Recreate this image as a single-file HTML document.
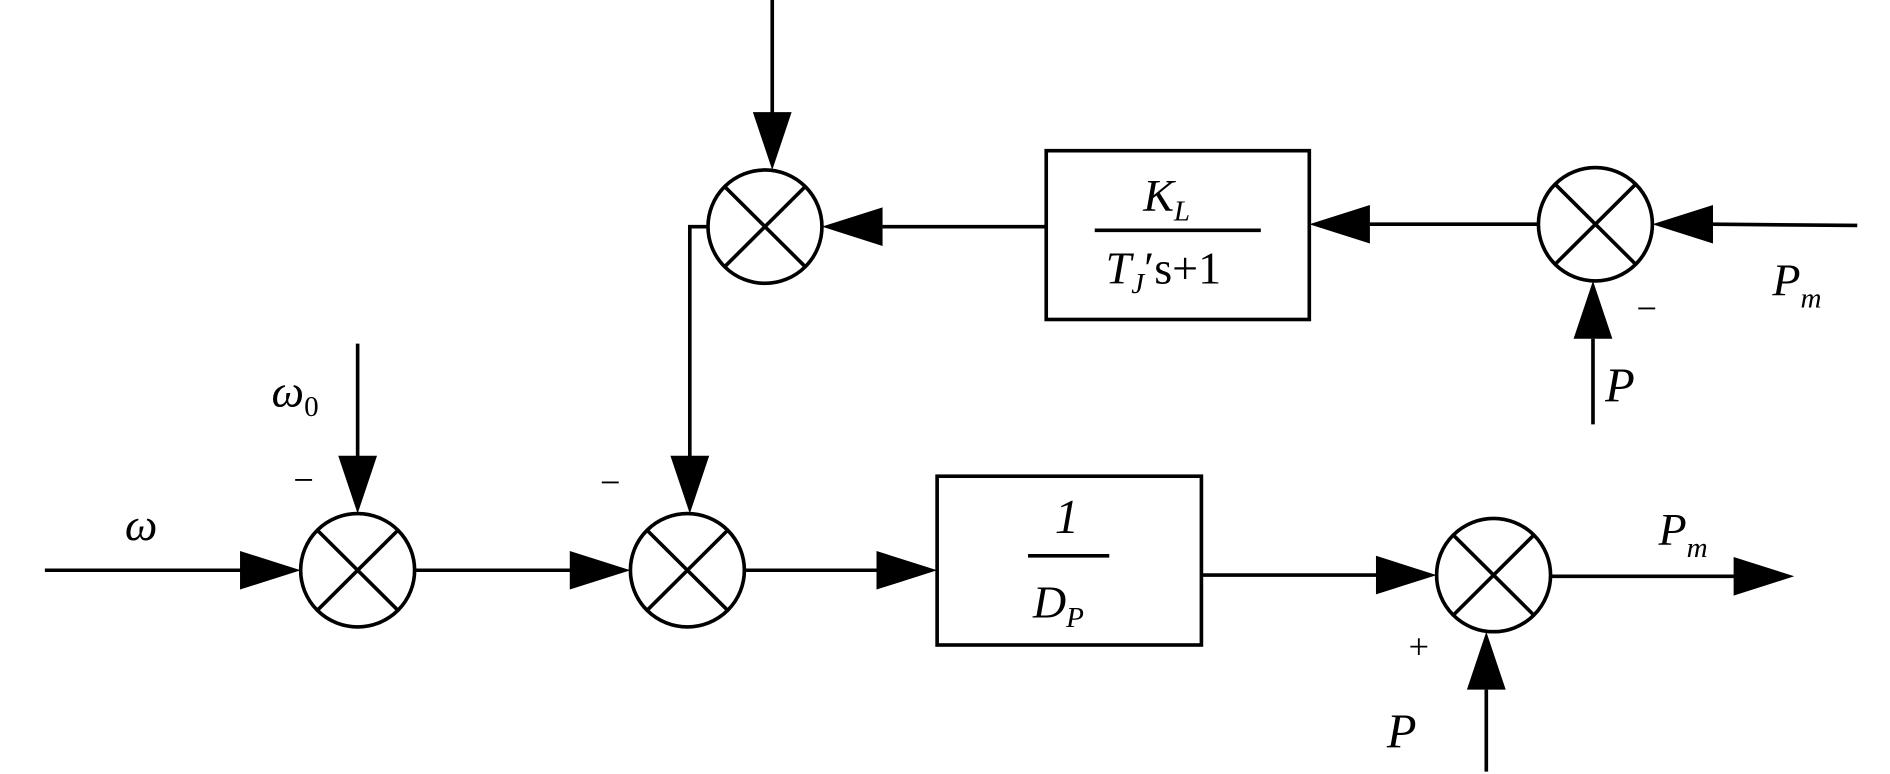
<!DOCTYPE html>
<html><head><meta charset="utf-8"><style>
html,body{margin:0;padding:0;background:#fff;}
svg{display:block;}
text{font-family:"Liberation Serif",serif;font-style:italic;fill:#000;}
</style></head><body>
<svg width="1890" height="774" viewBox="0 0 1559 642" preserveAspectRatio="none" xmlns="http://www.w3.org/2000/svg">
<g stroke="#000" stroke-width="3" fill="none">
<!-- circles -->
<circle cx="295" cy="473" r="47"/><path d="M262,440L328,506M328,440L262,506"/>
<circle cx="567" cy="473" r="47"/><path d="M534,440L600,506M600,440L534,506"/>
<circle cx="631" cy="188" r="47"/><path d="M598,155L664,221M664,155L598,221"/>
<circle cx="1316" cy="186" r="47"/><path d="M1283,153L1349,219M1349,153L1283,219"/>
<circle cx="1232" cy="477" r="47"/><path d="M1199,444L1265,510M1265,444L1199,510"/>
<!-- blocks -->
<rect x="773" y="395" width="218" height="140"/>
<rect x="863" y="125" width="217" height="140"/>
<!-- lines -->
<path d="M37,473H200M295,285V380M342,473H472M614,473H725M991,477H1137M1279,478H1433M1226,640V572"/>
<path d="M1532,187L1412,186M1270,186H1130M863,188H728M1314,352V281M637,0V95M584,188H569V380"/>
<path d="M848,461H915M903,191H1040"/>
</g>
<g fill="#000">
<polygon points="248,473 198,457 198,489"/>
<polygon points="295,426 279,378 311,378"/>
<polygon points="520,473 470,457 470,489"/>
<polygon points="773,473 723,457 723,489"/>
<polygon points="1185,477 1135,461 1135,493"/>
<polygon points="1480,478 1430,462 1430,494"/>
<polygon points="1226,524 1210,572 1242,572"/>
<polygon points="1363,186 1413,170 1413,202"/>
<polygon points="1080,186 1130,170 1130,202"/>
<polygon points="678,188 728,172 728,204"/>
<polygon points="1314,233 1298,281 1330,281"/>
<polygon points="637,141 621,93 653,93"/>
<polygon points="569,426 553,378 585,378"/>
</g>
<text x="103" y="448" font-size="38">ω</text>
<text x="224" y="337" font-size="38">ω<tspan font-size="24" font-style="normal" dy="8">0</tspan></text>
<text x="240" y="408" font-size="30" font-style="normal">−</text>
<text x="493" y="410" font-size="30" font-style="normal">−</text>
<text x="870" y="442" font-size="40" font-style="normal">1</text>
<text x="852" y="512" font-size="38">D<tspan font-size="24" dy="8">P</tspan></text>
<text x="943" y="175" font-size="38">K<tspan font-size="24" dy="8">L</tspan></text>
<text x="912" y="235" font-size="38">T<tspan font-size="24" dy="8">J</tspan><tspan dy="-8" font-style="normal">′s+1</tspan></text>
<text x="1462" y="245" font-size="38">P<tspan font-size="24" dy="10">m</tspan></text>
<text x="1348" y="266" font-size="30" font-style="normal">−</text>
<text x="1324" y="333" font-size="40">P</text>
<text x="1368" y="452" font-size="38">P<tspan font-size="24" dy="10">m</tspan></text>
<text x="1160" y="546" font-size="30" font-style="normal">+</text>
<text x="1144" y="620" font-size="40">P</text>
</svg>
</body></html>
